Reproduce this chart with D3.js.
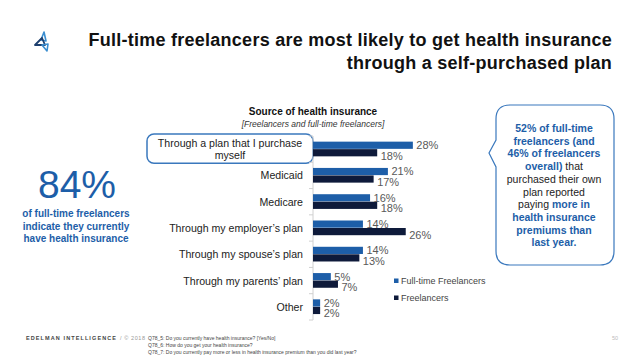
<!DOCTYPE html>
<html lang="en">
<head>
  <meta charset="UTF-8">
  <title>Source of health insurance</title>
  <script src="https://d3js.org/d3.v7.min.js"></script>
  <style>
    html, body { margin: 0; padding: 0; background: #fff; }
    svg { display: block; font-family: "Liberation Sans", Arial, sans-serif; }
  </style>
</head>
<body>
  <div id="chart"></div>
  <script>
    // data
    const categories = [
      "Through a plan that I purchase myself",
      "Medicaid",
      "Medicare",
      "Through my employer\u2019s plan",
      "Through my spouse\u2019s plan",
      "Through my parents\u2019 plan",
      "Other"
    ];
    const seriesNames = ["Full-time Freelancers", "Freelancers"];
    const fullTime = [28, 21, 16, 14, 14, 5, 2];
    const freelancers = [18, 17, 18, 26, 13, 7, 2];

    const blue = "#1d5ea8", navy = "#0e1a3a", outline = "#3a78bd";

    const W = 638, H = 359;
    const svg = d3.select("#chart").append("svg").attr("width", W).attr("height", H);

    // logo
    const logo = svg.append("g").attr("fill", "none").attr("stroke-linejoin", "round");
    logo.append("path").attr("d", "M44,32 L46,41 L41,40 Z").attr("stroke", "#3b8ed0").attr("stroke-width", 1.6);
    logo.append("path").attr("d", "M35,45 L42,38 L45,45 Z").attr("stroke", "#1d3f6e").attr("stroke-width", 1.8);
    logo.append("path").attr("d", "M42,45 L48,44 L47,51 Z").attr("stroke", "#3b8ed0").attr("stroke-width", 1.6);

    // title
    const title = svg.append("text").attr("text-anchor", "end").attr("font-weight", "bold")
      .attr("font-size", 18).attr("letter-spacing", 0.25).attr("fill", "#111");
    title.append("tspan").attr("x", 612).attr("y", 46).text("Full-time freelancers are most likely to get health insurance");
    title.append("tspan").attr("x", 612).attr("y", 69).text("through a self-purchased plan");

    // chart heading
    svg.append("text").attr("x", 313).attr("y", 115).attr("text-anchor", "middle")
      .attr("font-weight", "bold").attr("font-size", 10).attr("fill", "#111")
      .text("Source of health insurance");
    svg.append("text").attr("x", 313).attr("y", 127).attr("text-anchor", "middle")
      .attr("font-style", "italic").attr("font-size", 8.5).attr("fill", "#333")
      .text("[Freelancers and full-time freelancers]");

    // scales
    const y = d3.scaleBand().domain(categories).range([136, 320]);
    const sub = d3.scaleBand().domain(seriesNames).range([0, 15]);
    const x = d3.scaleLinear().domain([0, 30]).range([313, 420]);

    const rows = categories.map((c, i) => ({ cat: c, vals: [fullTime[i], freelancers[i]] }));

    // highlight box round first category
    svg.append("rect")
      .attr("x", 147).attr("y", y(categories[0]) - 2)
      .attr("width", x(0) - 147).attr("height", y.bandwidth() + 3)
      .attr("rx", 7).attr("fill", "none").attr("stroke", outline).attr("stroke-width", 1.5);

    // axis line with ticks between categories
    const axis = svg.append("g");
    axis.append("line").attr("x1", x(0)).attr("x2", x(0)).attr("y1", y.range()[0]).attr("y2", y.range()[1])
      .attr("stroke", "#d0d0d0");
    axis.selectAll(".tick").data(categories.concat([null]))
      .enter().append("line")
      .attr("x1", x(0) - 4).attr("x2", x(0))
      .attr("y1", d => d === null ? y.range()[1] : y(d))
      .attr("y2", d => d === null ? y.range()[1] : y(d))
      .attr("stroke", "#d0d0d0");

    // category labels
    const lab = svg.selectAll(".cat").data(categories).enter().append("text")
      .attr("font-size", 10.6).attr("fill", "#222");
    lab.each(function (d, i) {
      const t = d3.select(this);
      const cy = y(d) + y.bandwidth() / 2;
      if (i === 0) {
        t.attr("text-anchor", "middle");
        t.append("tspan").attr("x", 230).attr("y", cy - 2).text("Through a plan that I purchase");
        t.append("tspan").attr("x", 230).attr("y", cy + 10).text("myself");
      } else {
        t.attr("text-anchor", "end").attr("x", 303).attr("y", cy + 4).text(d);
      }
    });

    // bars
    const colors = [blue, navy];
    const groups = svg.selectAll(".row").data(rows).enter().append("g")
      .attr("transform", d => `translate(0,${y(d.cat) + y.bandwidth() / 2 - 7.5})`);
    groups.selectAll("rect").data(d => d.vals.map((v, j) => ({ v, s: seriesNames[j], j })))
      .enter().append("rect")
      .attr("x", x(0)).attr("y", d => sub(d.s))
      .attr("width", d => x(d.v) - x(0)).attr("height", sub.bandwidth() - 0.3)
      .attr("fill", d => colors[d.j]);
    groups.selectAll("text").data(d => d.vals.map((v, j) => ({ v, s: seriesNames[j], j })))
      .enter().append("text")
      .attr("x", d => x(d.v) + 3.5)
      .attr("y", d => sub(d.s) + (d.j === 0 ? 7.5 : 10.5))
      .attr("font-size", 11).attr("fill", "#595959")
      .text(d => d.v + "%");

    // legend
    const leg = svg.selectAll(".leg").data(seriesNames).enter().append("g")
      .attr("transform", (d, i) => `translate(394,${281 + i * 17})`);
    leg.append("rect").attr("x", 0).attr("y", -2.5).attr("width", 4.5).attr("height", 4.5)
      .attr("fill", (d, i) => colors[i]);
    leg.append("text").attr("x", 7).attr("y", 3).attr("font-size", 9).attr("fill", "#444").text(d => d);

    // 84% callout
    svg.append("text").attr("x", 77).attr("y", 198).attr("text-anchor", "middle")
      .attr("font-size", 39).attr("fill", blue).text("84%");
    const sideNote = ["of full-time freelancers", "indicate they currently", "have health insurance"];
    svg.append("g").selectAll("text").data(sideNote).enter().append("text")
      .attr("x", 76).attr("y", (d, i) => 217 + i * 12.5).attr("text-anchor", "middle")
      .attr("font-size", 10).attr("font-weight", "bold").attr("fill", blue).text(d => d);

    // speech box on the right
    svg.append("path")
      .attr("d", "M510,105 L600,105 Q614,105 614,119 L614,251 Q614,265 600,265 L510,265 Q496,265 496,251 L496,167 L489,153 L496,140 L496,119 Q496,105 510,105 Z")
      .attr("fill", "none").attr("stroke", outline).attr("stroke-width", 1.2);
    const boxLines = [
      [["52% of full-time", true]],
      [["freelancers (and", true]],
      [["46% of freelancers", true]],
      [["overall)", true], [" that", false]],
      [["purchased their own", false]],
      [["plan reported", false]],
      [["paying ", false], ["more in", true]],
      [["health insurance", true]],
      [["premiums than", true]],
      [["last year.", true]]
    ];
    const bt = svg.append("g").selectAll("text").data(boxLines).enter().append("text")
      .attr("x", 554).attr("y", (d, i) => 132 + i * 12.7).attr("text-anchor", "middle")
      .attr("font-size", 10.5);
    bt.selectAll("tspan").data(d => d).enter().append("tspan")
      .attr("font-weight", d => d[1] ? "bold" : "normal")
      .attr("fill", d => d[1] ? blue : "#222")
      .text(d => d[0]);

    // footer
    svg.append("text").attr("x", 26).attr("y", 340).attr("font-size", 5.5).attr("font-weight", "bold")
      .attr("letter-spacing", 1.1).attr("fill", "#444").text("EDELMAN INTELLIGENCE");
    svg.append("text").attr("x", 120).attr("y", 340).attr("font-size", 5.5).attr("fill", "#999")
      .attr("letter-spacing", 0.6).text("/ \u00a9 2018");
    const notes = [
      "Q78_5: Do you currently have health insurance? [Yes/No]",
      "Q78_6: How do you get your health insurance?",
      "Q78_7: Do you currently pay more or less in health insurance premium than you did last year?"
    ];
    svg.append("g").selectAll("text").data(notes).enter().append("text")
      .attr("x", 148).attr("y", (d, i) => 340 + i * 6.8).attr("font-size", 5).attr("fill", "#444").text(d => d);
    svg.append("text").attr("x", 618).attr("y", 340).attr("text-anchor", "end").attr("font-size", 5.5)
      .attr("fill", "#bbb").text("50");
  </script>
</body>
</html>
